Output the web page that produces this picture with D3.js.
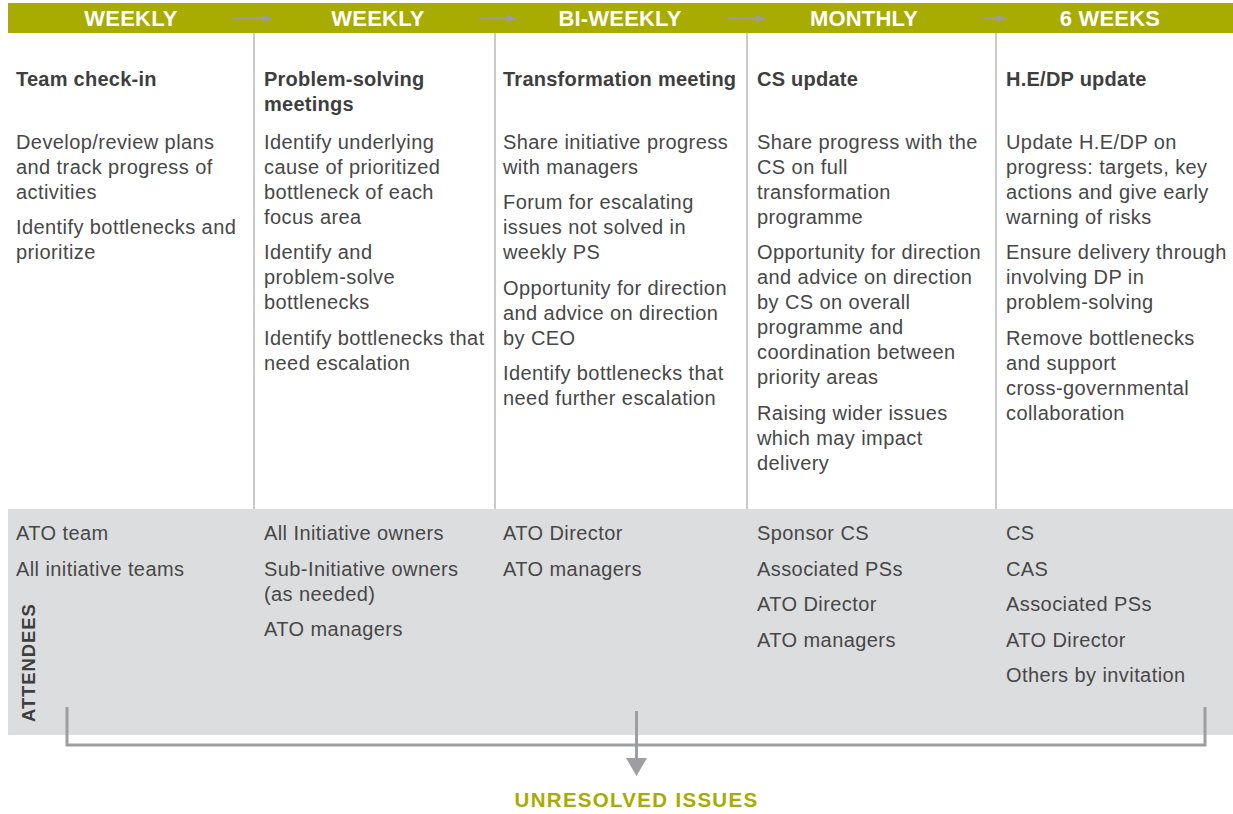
<!DOCTYPE html>
<html>
<head>
<meta charset="utf-8">
<script src="https://cdn.jsdelivr.net/npm/d3@7"></script>
<style>
  html, body { margin: 0; padding: 0; background: #fff; }
  svg { display: block; }
  text { font-family: "Liberation Sans", Arial, Helvetica, sans-serif; }
</style>
</head>
<body>
<script>
// ---------------- data ----------------
const frequencies = ["WEEKLY", "WEEKLY", "BI-WEEKLY", "MONTHLY", "6 WEEKS"];
const meetings = [
  ["Team check-in"],
  ["Problem-solving", "meetings"],
  ["Transformation meeting"],
  ["CS update"],
  ["H.E/DP update"]
];
const purposes = [
  [["Develop/review plans", "and track progress of", "activities"],
   ["Identify bottlenecks and", "prioritize"]],
  [["Identify underlying", "cause of prioritized", "bottleneck of each", "focus area"],
   ["Identify and", "problem-solve", "bottlenecks"],
   ["Identify bottlenecks that", "need escalation"]],
  [["Share initiative progress", "with managers"],
   ["Forum for escalating", "issues not solved in", "weekly PS"],
   ["Opportunity for direction", "and advice on direction", "by CEO"],
   ["Identify bottlenecks that", "need further escalation"]],
  [["Share progress with the", "CS on full", "transformation", "programme"],
   ["Opportunity for direction", "and advice on direction", "by CS on overall", "programme and", "coordination between", "priority areas"],
   ["Raising wider issues", "which may impact", "delivery"]],
  [["Update H.E/DP on", "progress: targets, key", "actions and give early", "warning of risks"],
   ["Ensure delivery through", "involving DP in", "problem-solving"],
   ["Remove bottlenecks", "and support", "cross-governmental", "collaboration"]]
];
const attendees = [
  [["ATO team"], ["All initiative teams"]],
  [["All Initiative owners"], ["Sub-Initiative owners", "(as needed)"], ["ATO managers"]],
  [["ATO Director"], ["ATO managers"]],
  [["Sponsor CS"], ["Associated PSs"], ["ATO Director"], ["ATO managers"]],
  [["CS"], ["CAS"], ["Associated PSs"], ["ATO Director"], ["Others by invitation"]]
];
const attendeesLabel = "ATTENDEES";
const outcomeLabel = "UNRESOLVED ISSUES";

// ---------------- layout ----------------
const W = 1233, H = 814;
const olive = "#a8ab00";
const grey = "#dcdddf";
const lineGrey = "#9d9ea1";
const textCol = "#474747";
const titleCol = "#3e3e3e";

const colEdges = [8, 254, 495, 747, 996, 1233];
const headerCenters = [131, 378, 620, 864, 1110];
const idx = d3.range(frequencies.length);
const xText = d3.scaleOrdinal().domain(idx).range([16, 264, 503, 757, 1006]);

const svg = d3.select("body").append("svg").attr("width", W).attr("height", H);

const defs = svg.append("defs");
defs.append("marker").attr("id", "hArrow")
  .attr("viewBox", "0 0 10 10").attr("refX", 10).attr("refY", 5)
  .attr("markerWidth", 9).attr("markerHeight", 9).attr("markerUnits", "userSpaceOnUse")
  .attr("orient", "auto")
  .append("path").attr("d", "M0,0.5 L10,5 L0,9.5 Z").attr("fill", "#999ba3");

// header bar
svg.append("rect").attr("x", 8).attr("y", 3).attr("width", W - 8).attr("height", 30).attr("fill", olive);

svg.selectAll("text.freq").data(frequencies).join("text")
  .attr("class", "freq")
  .attr("x", (d, i) => headerCenters[i]).attr("y", 26)
  .attr("text-anchor", "middle").attr("fill", "#fff")
  .attr("font-size", 22).attr("font-weight", "bold")
  .attr("letter-spacing", 0.2)
  .text(d => d);

// header arrows at column boundaries
const arrowSpans = [[233, 274], [479, 518], [727, 767], [983, 1008]];
svg.selectAll("line.harrow").data(arrowSpans).join("line")
  .attr("class", "harrow")
  .attr("x1", d => d[0]).attr("x2", d => d[1] - 2)
  .attr("y1", 18.5).attr("y2", 18.5)
  .attr("stroke", "#999ba3").attr("stroke-width", 2)
  .attr("marker-end", "url(#hArrow)");

// grey attendees band
svg.append("rect").attr("x", 8).attr("y", 509).attr("width", W - 8).attr("height", 226).attr("fill", grey);

// column separators
svg.selectAll("line.sep").data(colEdges.slice(1, 5)).join("line")
  .attr("class", "sep")
  .attr("x1", d => d).attr("x2", d => d)
  .attr("y1", 33).attr("y2", 509)
  .attr("stroke", "#b9b9b9").attr("stroke-width", 1.5);

// meeting titles
svg.selectAll("g.title").data(meetings).join("g").attr("class", "title")
  .each(function(lines, i) {
    d3.select(this).selectAll("text").data(lines).join("text")
      .attr("x", xText(i)).attr("y", (d, j) => 85.5 + j * 25)
      .attr("fill", titleCol).attr("font-size", 20).attr("font-weight", "bold")
      .attr("letter-spacing", 0.25)
      .text(d => d);
  });

// helper to draw paragraphs
function drawParas(sel, paras, x, y0, lineH, paraGap, size, ls) {
  let y = y0;
  paras.forEach(p => {
    p.forEach(line => {
      sel.append("text").attr("x", x).attr("y", y)
        .attr("fill", textCol).attr("font-size", size)
        .attr("letter-spacing", ls)
        .text(line);
      y += lineH;
    });
    y += paraGap;
  });
}

svg.selectAll("g.purpose").data(purposes).join("g").attr("class", "purpose")
  .each(function(paras, i) {
    drawParas(d3.select(this), paras, xText(i), 148.5, 25, 10.5, 20, 0.42);
  });

svg.selectAll("g.att").data(attendees).join("g").attr("class", "att")
  .each(function(paras, i) {
    drawParas(d3.select(this), paras, xText(i), 540, 25, 10.5, 20, 0.42);
  });

// rotated ATTENDEES label
svg.append("text")
  .attr("transform", "translate(35,722) rotate(-90)")
  .attr("fill", titleCol).attr("font-size", 18.5).attr("font-weight", "bold")
  .attr("letter-spacing", 0.9)
  .text(attendeesLabel);

// bracket
const bracketY = 745;
svg.append("path")
  .attr("d", d3.line()([[67, 707], [67, bracketY], [1205, bracketY], [1205, 707]]))
  .attr("fill", "none").attr("stroke", lineGrey).attr("stroke-width", 3);

// down arrow
svg.append("line").attr("x1", 636.5).attr("x2", 636.5).attr("y1", 711).attr("y2", 760)
  .attr("stroke", lineGrey).attr("stroke-width", 3);
svg.append("path")
  .attr("d", d3.line()([[626, 758], [647, 758], [636.5, 776]]) + "Z")
  .attr("fill", lineGrey);

svg.append("text").attr("x", 636.5).attr("y", 807)
  .attr("text-anchor", "middle").attr("fill", olive)
  .attr("font-size", 20.5).attr("font-weight", "bold")
  .attr("letter-spacing", 1.3)
  .text(outcomeLabel);
</script>
</body>
</html>
